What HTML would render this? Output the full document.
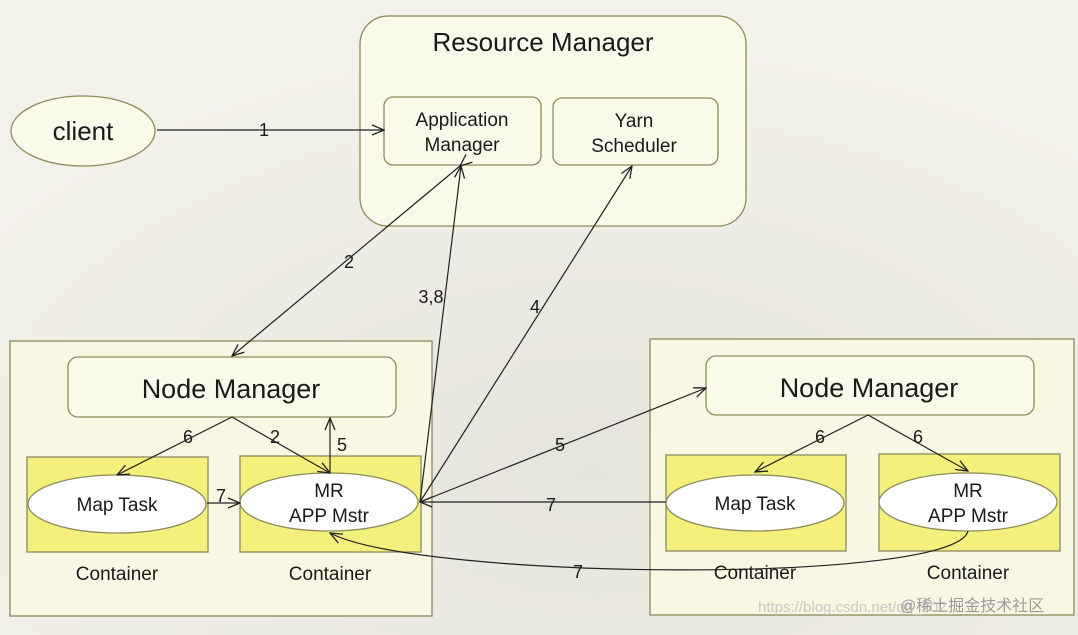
<!DOCTYPE html>
<html><head><meta charset="utf-8"><style>
html,body{margin:0;padding:0;background:#efeee6;}
svg{display:block;}
text{font-family:"Liberation Sans","Noto Sans CJK SC",sans-serif;fill:#1a1a1a;}
</style></head><body>
<svg width="1078" height="635" viewBox="0 0 1078 635" xmlns="http://www.w3.org/2000/svg">
<defs>
<marker id="a" markerWidth="14" markerHeight="12" refX="13" refY="6" orient="auto" markerUnits="userSpaceOnUse">
<path d="M1,1 L13,6 L1,11" fill="none" stroke="#222" stroke-width="1.3"/></marker>
<radialGradient id="bg" cx="0.55" cy="0.75" r="0.7"><stop offset="0" stop-color="#e6e5dc"/><stop offset="1" stop-color="#f2f1ea"/></radialGradient>
</defs>
<rect width="1078" height="635" fill="url(#bg)"/>
<g stroke="#8b8b5c" stroke-width="1.3">
<ellipse cx="83" cy="131" rx="72" ry="35" fill="#fafaea"/>
<rect x="360" y="16" width="386" height="210" rx="28" fill="#fafaea"/>
<rect x="384" y="97" width="157" height="68" rx="9" fill="#fafaea"/>
<rect x="553" y="98" width="165" height="67" rx="9" fill="#fafaea"/>
<rect x="10" y="341" width="422" height="275" fill="#f8f7e4"/>
<rect x="68" y="357" width="328" height="60" rx="10" fill="#fafaea"/>
<rect x="27" y="457" width="181" height="95" fill="#f4f07c"/>
<rect x="240" y="456" width="181" height="96" fill="#f4f07c"/>
<ellipse cx="117" cy="504" rx="89" ry="29" fill="#fff"/>
<ellipse cx="329" cy="502" rx="89" ry="29" fill="#fff"/>
<rect x="650" y="339" width="424" height="276" fill="#f8f7e4"/>
<rect x="706" y="356" width="328" height="59" rx="10" fill="#fafaea"/>
<rect x="666" y="455" width="180" height="96" fill="#f4f07c"/>
<rect x="879" y="454" width="181" height="97" fill="#f4f07c"/>
<ellipse cx="755" cy="503" rx="89" ry="28" fill="#fff"/>
<ellipse cx="968" cy="502" rx="89" ry="29" fill="#fff"/>
</g>
<g stroke="#222" stroke-width="1.2" fill="none">
<line x1="157" y1="130" x2="384" y2="130" marker-end="url(#a)"/>
<line x1="460" y1="166" x2="232" y2="356" marker-end="url(#a)" marker-start="url(#a)"/>
<line x1="420" y1="502" x2="461" y2="166" marker-end="url(#a)"/>
<line x1="420" y1="502" x2="632" y2="166" marker-end="url(#a)"/>
<line x1="420" y1="502" x2="706" y2="388" marker-end="url(#a)"/>
<line x1="666" y1="502" x2="420" y2="502" marker-end="url(#a)"/>
<line x1="232" y1="417" x2="117" y2="475" marker-end="url(#a)"/>
<line x1="232" y1="417" x2="330" y2="473" marker-end="url(#a)"/>
<line x1="330" y1="473" x2="330" y2="418" marker-end="url(#a)"/>
<line x1="207" y1="503" x2="240" y2="503" marker-end="url(#a)"/>
<line x1="868" y1="415" x2="755" y2="472" marker-end="url(#a)"/>
<line x1="868" y1="415" x2="968" y2="471" marker-end="url(#a)"/>
<path d="M968,531 C955,585 420,580 330,533" marker-end="url(#a)"/>
</g>
<g text-anchor="middle">
<text x="83" y="140" font-size="26">client</text>
<text x="543" y="51" font-size="26">Resource Manager</text>
<text x="462" y="126" font-size="19">Application</text>
<text x="462" y="151" font-size="19">Manager</text>
<text x="634" y="127" font-size="19">Yarn</text>
<text x="634" y="152" font-size="19">Scheduler</text>
<text x="231" y="398" font-size="27">Node Manager</text>
<text x="869" y="397" font-size="27">Node Manager</text>
<text x="117" y="511" font-size="19">Map Task</text>
<text x="329" y="497" font-size="19">MR</text>
<text x="329" y="522" font-size="19">APP Mstr</text>
<text x="755" y="510" font-size="19">Map Task</text>
<text x="968" y="497" font-size="19">MR</text>
<text x="968" y="522" font-size="19">APP Mstr</text>
<text x="117" y="580" font-size="19">Container</text>
<text x="330" y="580" font-size="19">Container</text>
<text x="755" y="579" font-size="19">Container</text>
<text x="968" y="579" font-size="19">Container</text>
<g font-size="18">
<text x="264" y="136">1</text>
<text x="349" y="268">2</text>
<text x="431" y="303">3,8</text>
<text x="535" y="313">4</text>
<text x="560" y="451">5</text>
<text x="551" y="511">7</text>
<text x="188" y="443">6</text>
<text x="275" y="443">2</text>
<text x="342" y="451">5</text>
<text x="221" y="502">7</text>
<text x="820" y="443">6</text>
<text x="918" y="443">6</text>
<text x="578" y="578">7</text>
</g>
</g>
<text x="758" y="612" font-size="15" style="fill:#c8c8c8">https://blog.csdn.net/qq_202</text>
<text x="900" y="611" font-size="16" style="fill:#9a9a9a">@稀土掘金技术社区</text>
</svg>
</body></html>
